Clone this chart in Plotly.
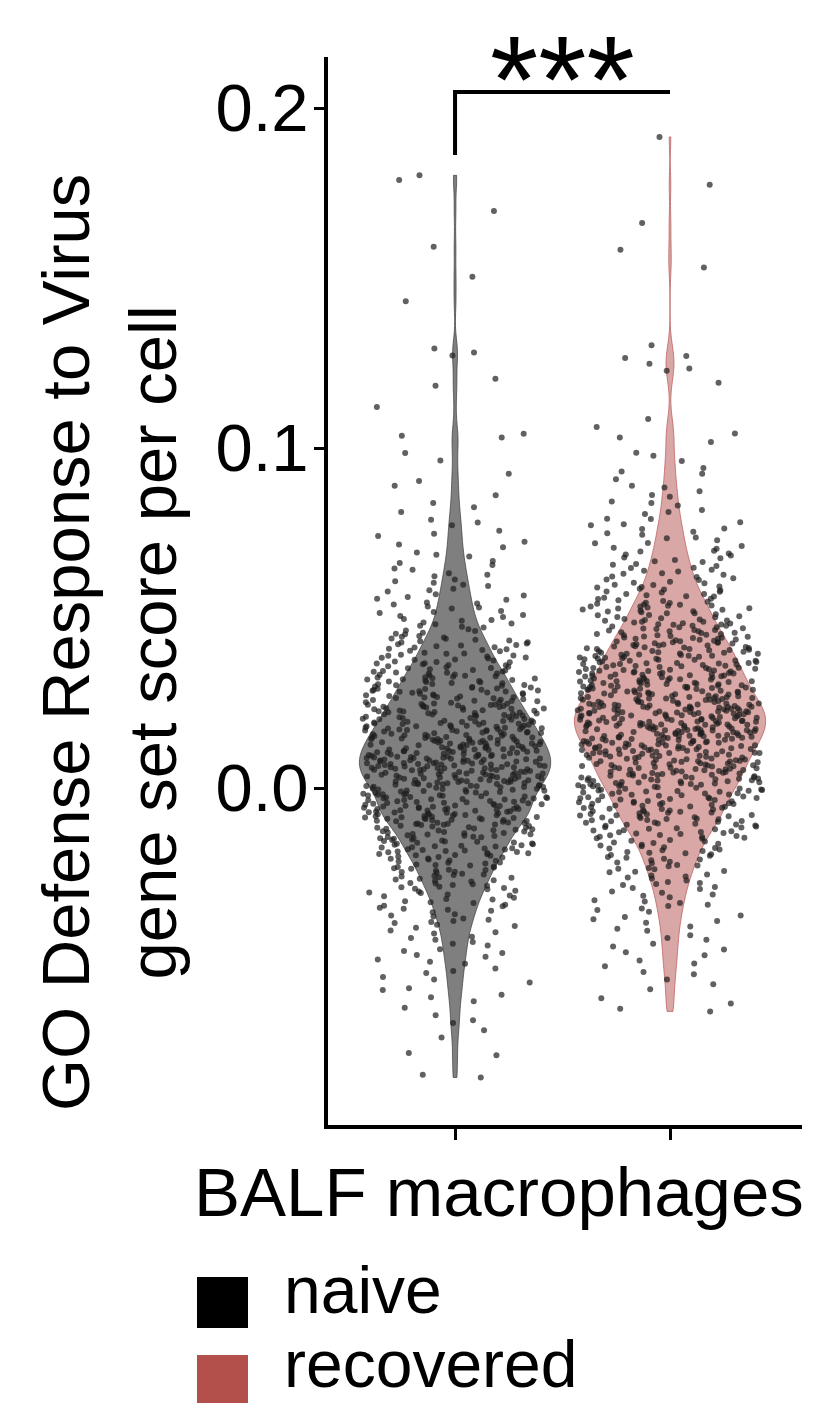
import plotly.graph_objects as go

# ---------------- data (gene set score per cell) ----------------
categories = ["naive", "recovered"]
positions = [0, 1]
y_tick_values = [0.0, 0.1, 0.2]
y_tick_labels = ["0.0", "0.1", "0.2"]
x_title = "BALF macrophages"
y_title = "GO Defense Response to Virus<br>gene set score per cell"
significance = "***"

naive_scores = [
    -0.0851, -0.0843, -0.0786, -0.0779, -0.0734, -0.0712, -0.0691, -0.0668,
    -0.0646, -0.0627, -0.0608, -0.0594, -0.0572, -0.0556,
    -0.0544, -0.0531, -0.0517, -0.0504, -0.0496, -0.0485, -0.0474, -0.0463, -0.0453,
    -0.0446, -0.0437, -0.0428, -0.0419, -0.0411, -0.0402,
    -0.0397, -0.0391, -0.0384, -0.0378, -0.0371, -0.0365, -0.0358, -0.0352,
    -0.0348, -0.0343, -0.0338, -0.0333, -0.0328, -0.0323, -0.0318, -0.0313, -0.0307, -0.0302,
    -0.0298, -0.0294, -0.0290, -0.0287, -0.0283, -0.0279, -0.0275, -0.0271, -0.0267, -0.0264, -0.0260, -0.0256, -0.0252,
    -0.0249, -0.0246, -0.0243, -0.0240, -0.0237, -0.0234, -0.0231, -0.0228, -0.0225, -0.0222, -0.0219, -0.0216,
    -0.0213, -0.0210, -0.0207, -0.0204, -0.0201,
    -0.0199, -0.0197, -0.0194, -0.0192, -0.0189, -0.0187, -0.0184, -0.0182, -0.0180, -0.0177, -0.0175, -0.0172,
    -0.0170, -0.0168, -0.0165, -0.0163, -0.0160, -0.0158, -0.0156, -0.0153, -0.0151,
    -0.0149, -0.0147, -0.0145, -0.0143, -0.0141, -0.0139, -0.0137, -0.0135, -0.0133, -0.0131, -0.0129, -0.0127,
    -0.0125, -0.0123, -0.0121, -0.0119, -0.0117, -0.0115, -0.0113, -0.0111, -0.0109, -0.0107, -0.0105, -0.0103, -0.0101,
    -0.0099, -0.0098, -0.0096, -0.0094, -0.0093, -0.0091, -0.0089, -0.0088, -0.0086, -0.0084, -0.0083, -0.0081,
    -0.0079, -0.0078, -0.0076, -0.0074, -0.0072, -0.0071, -0.0069, -0.0067, -0.0066, -0.0064, -0.0062, -0.0061,
    -0.0059, -0.0057, -0.0056, -0.0054, -0.0052,
    -0.0049, -0.0048, -0.0046, -0.0045, -0.0043, -0.0042, -0.0040, -0.0039, -0.0037, -0.0036, -0.0035, -0.0033,
    -0.0032, -0.0030, -0.0029, -0.0027, -0.0026, -0.0024, -0.0023, -0.0022, -0.0020, -0.0019, -0.0017, -0.0016,
    -0.0014, -0.0013, -0.0011, -0.0010, -0.0009, -0.0007, -0.0006, -0.0004, -0.0003, -0.0001,
    0.0001, 0.0002, 0.0003, 0.0005, 0.0006, 0.0007, 0.0009, 0.0010, 0.0011, 0.0013, 0.0014, 0.0015, 0.0017,
    0.0018, 0.0019, 0.0021, 0.0022, 0.0023, 0.0025, 0.0026, 0.0027, 0.0029, 0.0030, 0.0031, 0.0033, 0.0034,
    0.0035, 0.0037, 0.0038, 0.0039, 0.0041, 0.0042, 0.0043, 0.0045, 0.0046, 0.0047, 0.0048, 0.0049,
    0.0050, 0.0051, 0.0053, 0.0054, 0.0055, 0.0056, 0.0058, 0.0059, 0.0060, 0.0061, 0.0062, 0.0064, 0.0065,
    0.0066, 0.0067, 0.0069, 0.0070, 0.0071, 0.0072, 0.0073, 0.0075, 0.0076, 0.0077, 0.0078, 0.0080, 0.0081,
    0.0082, 0.0083, 0.0084, 0.0086, 0.0087, 0.0088, 0.0089, 0.0091, 0.0092, 0.0093, 0.0094, 0.0095, 0.0097, 0.0098, 0.0099,
    0.0100, 0.0102, 0.0103, 0.0104, 0.0105, 0.0107, 0.0108, 0.0109, 0.0110, 0.0112, 0.0113, 0.0114, 0.0116,
    0.0117, 0.0118, 0.0120, 0.0121, 0.0122, 0.0124, 0.0125, 0.0126, 0.0128, 0.0129, 0.0130, 0.0132, 0.0133,
    0.0134, 0.0136, 0.0137, 0.0138, 0.0140, 0.0141, 0.0142, 0.0144, 0.0145, 0.0146, 0.0148, 0.0149,
    0.0150, 0.0152, 0.0153, 0.0155, 0.0156, 0.0158, 0.0159, 0.0161, 0.0162, 0.0164, 0.0165, 0.0167, 0.0168,
    0.0170, 0.0171, 0.0173, 0.0174, 0.0176, 0.0177, 0.0179, 0.0180, 0.0182, 0.0183, 0.0185, 0.0186, 0.0188,
    0.0189, 0.0191, 0.0192, 0.0194, 0.0195, 0.0197, 0.0198, 0.0199,
    0.0201, 0.0203, 0.0204, 0.0206, 0.0208, 0.0210, 0.0211, 0.0213, 0.0215, 0.0216, 0.0218, 0.0220, 0.0222,
    0.0223, 0.0225, 0.0227, 0.0228, 0.0230, 0.0232, 0.0234, 0.0235, 0.0237, 0.0239, 0.0240, 0.0242, 0.0244,
    0.0246, 0.0247, 0.0249,
    0.0251, 0.0253, 0.0255, 0.0257, 0.0259, 0.0261, 0.0263, 0.0265, 0.0267, 0.0269, 0.0271, 0.0273, 0.0275,
    0.0277, 0.0279, 0.0281, 0.0283, 0.0285, 0.0287, 0.0289, 0.0291, 0.0293, 0.0295, 0.0297, 0.0299,
    0.0301, 0.0303, 0.0306, 0.0308, 0.0311, 0.0313, 0.0315, 0.0318, 0.0320, 0.0323, 0.0325, 0.0327, 0.0330,
    0.0332, 0.0334, 0.0337, 0.0339, 0.0342, 0.0344, 0.0346, 0.0349,
    0.0352, 0.0355, 0.0358, 0.0361, 0.0364, 0.0367, 0.0370, 0.0372, 0.0375, 0.0378, 0.0381, 0.0384, 0.0387,
    0.0390, 0.0392, 0.0395, 0.0398,
    0.0402, 0.0406, 0.0410, 0.0413, 0.0417, 0.0421, 0.0425, 0.0428, 0.0432, 0.0436, 0.0440, 0.0443, 0.0447,
    0.0452, 0.0457, 0.0462, 0.0467, 0.0472, 0.0477, 0.0482, 0.0487, 0.0492, 0.0497,
    0.0503, 0.0509, 0.0515, 0.0521, 0.0528, 0.0534, 0.0540, 0.0546,
    0.0554, 0.0562, 0.0570, 0.0578, 0.0586, 0.0594,
    0.0604, 0.0613, 0.0623, 0.0632, 0.0642,
    0.0656, 0.0668, 0.0681, 0.0693, 0.0708, 0.0724, 0.0741, 0.0757, 0.0773, 0.0789,
    0.0812, 0.0838, 0.0861, 0.0889, 0.0924,
    0.0963, 0.0985, 0.1031, 0.1036, 0.1042, 0.1121, 0.1183, 0.1204, 0.1272, 0.1281, 0.1293,
    0.1432, 0.1504, 0.1592, 0.1697, 0.1788, 0.1802,
    # further cells
    -0.0683, -0.0615, -0.0589, -0.0563, -0.0538, -0.0511,
    -0.0491, -0.0479, -0.0458, -0.0441, -0.0424, -0.0406,
    -0.0394, -0.0387, -0.0375, -0.0361, -0.0355, -0.0346, -0.0336, -0.0326, -0.0316, -0.0309, -0.0304,
    -0.0296, -0.0292, -0.0285, -0.0281, -0.0273, -0.0269, -0.0262, -0.0258, -0.0254, -0.0247, -0.0241, -0.0236,
    -0.0232, -0.0226, -0.0220, -0.0214, -0.0208, -0.0203,
    -0.0198, -0.0195, -0.0191, -0.0188, -0.0185, -0.0181, -0.0178, -0.0174, -0.0171, -0.0167, -0.0164, -0.0161,
    -0.0157, -0.0154, -0.0148, -0.0144, -0.0140, -0.0136, -0.0132, -0.0128, -0.0124, -0.0120, -0.0116, -0.0112,
    -0.0108, -0.0106, -0.0104, -0.0102,
    -0.0097, -0.0095, -0.0092, -0.0090, -0.0087, -0.0085, -0.0082, -0.0080, -0.0077, -0.0075, -0.0073, -0.0070,
    -0.0068, -0.0065, -0.0063, -0.0060, -0.0058, -0.0055, -0.0053, -0.0051, -0.0047, -0.0044, -0.0041, -0.0038,
    -0.0034, -0.0031, -0.0028, -0.0025, -0.0021, -0.0018, -0.0015, -0.0012, -0.0008, -0.0005, -0.0002, -0.0050,
    -0.0062, -0.0089,
    0.0004, 0.0008, 0.0012, 0.0016, 0.0020, 0.0024, 0.0028, 0.0032, 0.0036, 0.0040, 0.0044, 0.0052, 0.0057,
    0.0063, 0.0068, 0.0074, 0.0079, 0.0085, 0.0090, 0.0096, 0.0003, 0.0007, 0.0011, 0.0015, 0.0019, 0.0023,
    0.0027, 0.0031, 0.0035, 0.0039, 0.0043, 0.0047, 0.0053, 0.0055, 0.0061, 0.0065, 0.0069, 0.0073, 0.0077,
    0.0081, 0.0084, 0.0088, 0.0093, 0.0097, 0.0058, 0.0071, 0.0087, 0.0092,
    0.0101, 0.0106, 0.0111, 0.0115, 0.0119, 0.0123, 0.0127, 0.0131, 0.0135, 0.0139, 0.0143, 0.0147, 0.0151,
    0.0154, 0.0157, 0.0160, 0.0163, 0.0166, 0.0169, 0.0172, 0.0175, 0.0178, 0.0181, 0.0184, 0.0187, 0.0190,
    0.0193, 0.0196, 0.0104, 0.0109, 0.0113, 0.0117, 0.0121, 0.0126, 0.0131, 0.0135, 0.0139, 0.0144, 0.0148,
    0.0163, 0.0171, 0.0182, 0.0194,
    0.0202, 0.0205, 0.0209, 0.0212, 0.0214, 0.0217, 0.0221, 0.0224, 0.0226, 0.0229, 0.0233, 0.0236, 0.0238,
    0.0241, 0.0245, 0.0248, 0.0252, 0.0256, 0.0260, 0.0264, 0.0268, 0.0272, 0.0276, 0.0280, 0.0284, 0.0288,
    0.0292, 0.0296, 0.0219, 0.0243, 0.0266, 0.0286,
    0.0302, 0.0305, 0.0309, 0.0312, 0.0316, 0.0319, 0.0322, 0.0326, 0.0329, 0.0333, 0.0336, 0.0340, 0.0343,
    0.0347, 0.0353, 0.0357, 0.0362, 0.0366, 0.0371, 0.0377, 0.0383, 0.0389, 0.0396,
    0.0404, 0.0408, 0.0414, 0.0419, 0.0423, 0.0429, 0.0434, 0.0439, 0.0445, 0.0454, 0.0463, 0.0474, 0.0484, 0.0494,
    0.0506, 0.0518, 0.0531, 0.0543, 0.0557, 0.0566, 0.0582, 0.0598,
    0.0608, 0.0627, 0.0646, 0.0662, 0.0686, 0.0716, 0.0748, 0.0781, 0.0826, 0.0903,
]

recovered_scores = [
    -0.0657, -0.0649, -0.0618, -0.0592, -0.0563,
    -0.0541, -0.0524, -0.0507, -0.0492, -0.0475, -0.0458,
    -0.0446, -0.0433, -0.0420, -0.0407, -0.0396, -0.0386, -0.0375, -0.0364, -0.0354,
    -0.0347, -0.0338, -0.0330, -0.0321, -0.0313, -0.0304,
    -0.0297, -0.0291, -0.0285, -0.0279, -0.0272, -0.0266, -0.0260, -0.0254,
    -0.0248, -0.0244, -0.0239, -0.0235, -0.0230, -0.0226, -0.0221, -0.0217, -0.0212, -0.0208, -0.0203,
    -0.0199, -0.0195, -0.0192, -0.0188, -0.0185, -0.0181, -0.0178, -0.0174, -0.0171, -0.0167, -0.0164,
    -0.0160, -0.0157, -0.0153,
    -0.0149, -0.0146, -0.0143, -0.0141, -0.0138, -0.0135, -0.0132, -0.0129, -0.0127, -0.0124, -0.0121,
    -0.0118, -0.0115, -0.0113, -0.0110, -0.0107, -0.0104, -0.0102,
    -0.0099, -0.0097, -0.0095, -0.0092, -0.0090, -0.0088, -0.0086, -0.0083, -0.0081, -0.0079, -0.0077,
    -0.0074, -0.0072, -0.0070, -0.0068, -0.0065, -0.0063, -0.0061, -0.0059, -0.0056, -0.0054, -0.0052,
    -0.0049, -0.0047, -0.0046, -0.0044, -0.0042, -0.0040, -0.0038, -0.0036, -0.0034, -0.0032, -0.0030,
    -0.0028, -0.0027, -0.0025, -0.0023, -0.0021, -0.0019, -0.0017, -0.0015, -0.0013, -0.0011, -0.0009,
    -0.0008, -0.0006, -0.0004, -0.0002,
    0.0001, 0.0003, 0.0004, 0.0006, 0.0008, 0.0009, 0.0011, 0.0013, 0.0014, 0.0016, 0.0018, 0.0019, 0.0021,
    0.0023, 0.0024, 0.0026, 0.0028, 0.0029, 0.0031, 0.0033, 0.0034, 0.0036, 0.0038, 0.0039, 0.0041, 0.0043,
    0.0044, 0.0046, 0.0047, 0.0049,
    0.0050, 0.0052, 0.0053, 0.0055, 0.0056, 0.0058, 0.0059, 0.0061, 0.0062, 0.0064, 0.0065, 0.0067, 0.0068,
    0.0070, 0.0071, 0.0073, 0.0074, 0.0076, 0.0077, 0.0079, 0.0080, 0.0082, 0.0083, 0.0085, 0.0086, 0.0088,
    0.0089, 0.0091, 0.0092, 0.0094, 0.0095, 0.0097, 0.0098, 0.0099,
    0.0100, 0.0102, 0.0103, 0.0104, 0.0105, 0.0107, 0.0108, 0.0109, 0.0110, 0.0112, 0.0113, 0.0114, 0.0116,
    0.0117, 0.0118, 0.0120, 0.0121, 0.0122, 0.0124, 0.0125, 0.0126, 0.0128, 0.0129, 0.0130, 0.0132, 0.0133,
    0.0134, 0.0136, 0.0137, 0.0138, 0.0140, 0.0141, 0.0142, 0.0144, 0.0145, 0.0146, 0.0148, 0.0149,
    0.0150, 0.0151, 0.0152, 0.0154, 0.0155, 0.0156, 0.0157, 0.0158, 0.0160, 0.0161, 0.0162, 0.0163, 0.0164,
    0.0165, 0.0167, 0.0168, 0.0169, 0.0170, 0.0171, 0.0173, 0.0174, 0.0175, 0.0176, 0.0177, 0.0178, 0.0180,
    0.0181, 0.0182, 0.0183, 0.0184, 0.0186, 0.0187, 0.0188, 0.0189, 0.0190, 0.0191, 0.0193, 0.0194, 0.0195,
    0.0196, 0.0197, 0.0199,
    0.0200, 0.0201, 0.0203, 0.0204, 0.0205, 0.0206, 0.0207, 0.0210, 0.0211, 0.0212, 0.0213, 0.0214, 0.0216,
    0.0217, 0.0218, 0.0219, 0.0220, 0.0221, 0.0223, 0.0224, 0.0225, 0.0226, 0.0227, 0.0229, 0.0230, 0.0231,
    0.0232, 0.0233, 0.0234, 0.0236, 0.0237, 0.0238, 0.0239, 0.0240, 0.0242, 0.0243, 0.0244, 0.0245, 0.0246,
    0.0248, 0.0249,
    0.0250, 0.0252, 0.0253, 0.0254, 0.0256, 0.0257, 0.0259, 0.0260, 0.0261, 0.0263, 0.0264, 0.0265, 0.0267,
    0.0268, 0.0270, 0.0271, 0.0272, 0.0274, 0.0275, 0.0276, 0.0278, 0.0279, 0.0281, 0.0282, 0.0283, 0.0285,
    0.0286, 0.0287, 0.0289, 0.0290, 0.0292, 0.0293, 0.0294, 0.0296, 0.0297, 0.0298, 0.0299,
    0.0301, 0.0302, 0.0304, 0.0305, 0.0307, 0.0308, 0.0310, 0.0311, 0.0313, 0.0314, 0.0316, 0.0317, 0.0319,
    0.0320, 0.0322, 0.0323, 0.0325, 0.0326, 0.0328, 0.0329, 0.0331, 0.0332, 0.0334, 0.0335, 0.0337, 0.0338,
    0.0340, 0.0341, 0.0343, 0.0344, 0.0346, 0.0347, 0.0349,
    0.0351, 0.0353, 0.0354, 0.0356, 0.0358, 0.0360, 0.0361, 0.0363, 0.0365, 0.0367, 0.0368, 0.0370, 0.0372,
    0.0374, 0.0375, 0.0377, 0.0379, 0.0381, 0.0382, 0.0384, 0.0386, 0.0388, 0.0389, 0.0391, 0.0393, 0.0395,
    0.0396, 0.0398, 0.0399,
    0.0401, 0.0403, 0.0405, 0.0407, 0.0409, 0.0411, 0.0413, 0.0415, 0.0417, 0.0419, 0.0421, 0.0423, 0.0425,
    0.0427, 0.0429, 0.0431, 0.0433, 0.0435, 0.0437, 0.0439, 0.0441, 0.0443, 0.0445, 0.0447, 0.0449,
    0.0451, 0.0453, 0.0456, 0.0458, 0.0461, 0.0463, 0.0465, 0.0468, 0.0470, 0.0473, 0.0475, 0.0477, 0.0480,
    0.0482, 0.0484, 0.0487, 0.0489, 0.0492, 0.0494, 0.0496, 0.0499,
    0.0502, 0.0505, 0.0508, 0.0511, 0.0514, 0.0517, 0.0520, 0.0522, 0.0525, 0.0528, 0.0531, 0.0534, 0.0537,
    0.0540, 0.0542, 0.0545, 0.0548,
    0.0552, 0.0556, 0.0560, 0.0563, 0.0567, 0.0571, 0.0575, 0.0578, 0.0582, 0.0586, 0.0590, 0.0593, 0.0597,
    0.0602, 0.0607, 0.0612, 0.0617, 0.0622, 0.0627, 0.0632, 0.0637, 0.0642, 0.0647,
    0.0653, 0.0659, 0.0665, 0.0671, 0.0678, 0.0684, 0.0690, 0.0696,
    0.0704, 0.0712, 0.0720, 0.0729, 0.0737, 0.0745,
    0.0754, 0.0763, 0.0773, 0.0782, 0.0792,
    0.0806, 0.0818, 0.0831, 0.0843, 0.0857, 0.0873, 0.0889, 0.0908, 0.0924, 0.0941,
    0.0962, 0.0986, 0.1018, 0.1043, 0.1062, 0.1085,
    0.1192, 0.1227, 0.1234, 0.1248, 0.1265, 0.1271, 0.1302, 0.1531, 0.1583, 0.1662, 0.1774, 0.1915,
    # further cells
    -0.0634, -0.0577, -0.0548, -0.0516, -0.0483, -0.0466, -0.0441, -0.0414,
    -0.0391, -0.0379, -0.0359, -0.0343, -0.0334, -0.0317, -0.0308,
    -0.0294, -0.0282, -0.0276, -0.0263, -0.0257, -0.0246, -0.0237, -0.0228, -0.0219, -0.0210, -0.0205,
    -0.0197, -0.0190, -0.0183, -0.0176, -0.0169, -0.0162, -0.0155, -0.0148, -0.0144, -0.0139, -0.0134,
    -0.0130, -0.0125, -0.0120, -0.0116, -0.0111, -0.0108, -0.0105, -0.0101,
    -0.0098, -0.0094, -0.0091, -0.0087, -0.0084, -0.0080, -0.0076, -0.0073, -0.0069, -0.0066, -0.0062,
    -0.0058, -0.0055, -0.0051, -0.0048, -0.0045, -0.0043, -0.0039, -0.0035, -0.0031, -0.0029, -0.0024,
    -0.0020, -0.0016, -0.0012, -0.0010, -0.0007, -0.0005, -0.0001,
    0.0002, 0.0005, 0.0007, 0.0010, 0.0012, 0.0015, 0.0017, 0.0020, 0.0022, 0.0025, 0.0027, 0.0030, 0.0032,
    0.0035, 0.0037, 0.0040, 0.0042, 0.0045, 0.0048, 0.0051, 0.0054, 0.0057, 0.0060, 0.0063, 0.0066, 0.0069,
    0.0072, 0.0075, 0.0078, 0.0081, 0.0084, 0.0087, 0.0090, 0.0093, 0.0096, 0.0099, 0.0058, 0.0079,
    0.0101, 0.0103, 0.0106, 0.0108, 0.0111, 0.0113, 0.0115, 0.0117, 0.0119, 0.0121, 0.0123, 0.0126, 0.0128,
    0.0131, 0.0133, 0.0135, 0.0137, 0.0139, 0.0142, 0.0144, 0.0147, 0.0149, 0.0152, 0.0154, 0.0156, 0.0159,
    0.0161, 0.0163, 0.0165, 0.0168, 0.0170, 0.0172, 0.0174, 0.0176, 0.0179, 0.0181, 0.0183, 0.0185, 0.0187,
    0.0189, 0.0191, 0.0193, 0.0195, 0.0197, 0.0198, 0.0153, 0.0171, 0.0186,
    0.0201, 0.0203, 0.0205, 0.0207, 0.0209, 0.0211, 0.0213, 0.0215, 0.0217, 0.0219, 0.0221, 0.0223, 0.0225,
    0.0227, 0.0229, 0.0231, 0.0233, 0.0235, 0.0237, 0.0239, 0.0241, 0.0243, 0.0245, 0.0247, 0.0249, 0.0251,
    0.0254, 0.0257, 0.0260, 0.0262, 0.0265, 0.0268, 0.0270, 0.0273, 0.0276, 0.0278, 0.0281, 0.0284, 0.0286,
    0.0289, 0.0291, 0.0294, 0.0297, 0.0299, 0.0222, 0.0238, 0.0263,
    0.0301, 0.0303, 0.0306, 0.0309, 0.0312, 0.0315, 0.0318, 0.0321, 0.0324, 0.0327, 0.0330, 0.0333, 0.0336,
    0.0339, 0.0342, 0.0345, 0.0348, 0.0350, 0.0353, 0.0356, 0.0359, 0.0362, 0.0365, 0.0368, 0.0371, 0.0374,
    0.0377, 0.0380, 0.0383, 0.0386, 0.0389, 0.0392, 0.0395, 0.0398, 0.0314, 0.0337, 0.0366,
    0.0402, 0.0406, 0.0409, 0.0412, 0.0416, 0.0419, 0.0422, 0.0426, 0.0429, 0.0432, 0.0436, 0.0439, 0.0442,
    0.0446, 0.0449, 0.0453, 0.0457, 0.0461, 0.0465, 0.0469, 0.0473, 0.0477, 0.0481, 0.0485, 0.0489, 0.0493,
    0.0497, 0.0414,
    0.0503, 0.0509, 0.0514, 0.0519, 0.0524, 0.0529, 0.0534, 0.0539, 0.0544, 0.0550, 0.0557, 0.0564, 0.0571,
    0.0577, 0.0584, 0.0591, 0.0598, 0.0536,
    0.0604, 0.0613, 0.0621, 0.0630, 0.0639, 0.0648, 0.0657, 0.0667, 0.0676, 0.0687, 0.0698,
    0.0707, 0.0721, 0.0735, 0.0749, 0.0762, 0.0776, 0.0791, 0.0812, 0.0838, 0.0862, 0.0884,
    0.0931, 0.0977, 0.1031,
]

group_scores = [naive_scores, recovered_scores]

# ---------------- style ----------------
FONT = "Liberation Sans, Arial, Helvetica, sans-serif"
legend_colors = ["#000000", "#B4504B"]
violin_fills = ["rgba(0,0,0,0.5)", "rgba(180,80,75,0.5)"]
violin_lines = ["rgba(60,60,60,0.7)", "rgba(190,100,100,0.8)"]
point_color = "rgba(30,30,30,0.7)"
# value bands used only to spread the jittered cells evenly across the full jitter width
jitter_bands = [-1.0, -0.05, -0.03, -0.01, 0.03, 0.05, 0.07, 0.1, 1.0]

# page is offset by the 8px default body margin
OFF = 8
W, H = 800, 1395
ML, MR, MT, MB = 320, 6, 49, 278
PW, PH = W - ML - MR, H - MT - MB


def px_x(p):
    return (p - OFF - ML) / PW


def px_y(p):
    return (H - MB - (p - OFF)) / PH


fig = go.Figure()

# jittered cells (drawn first, below the violins)
for name, pos, vals in zip(categories, positions, group_scores):
    for lo, hi in zip(jitter_bands[:-1], jitter_bands[1:]):
        band = [v for v in vals if lo <= v < hi]
        if not band:
            continue
        fig.add_trace(go.Box(
            y=band, x0=pos, name=name, boxpoints="all", jitter=1, pointpos=0,
            marker=dict(size=6, color=point_color, line=dict(width=0)),
            fillcolor="rgba(0,0,0,0)", line=dict(width=0, color="rgba(0,0,0,0)"),
            whiskerwidth=0, width=0.86, showlegend=False, hoverinfo="y",
        ))

# translucent violins on top
for name, pos, vals, fc, lc in zip(categories, positions, group_scores, violin_fills, violin_lines):
    fig.add_trace(go.Violin(
        y=vals, x0=pos, name=name, points=False,
        fillcolor=fc, line=dict(width=1, color=lc),
        width=0.89, spanmode="hard", bandwidth=0.0038,
        box_visible=False, meanline_visible=False, showlegend=False, hoverinfo="skip",
    ))

# significance bracket
BRACKET_TOP = 0.2047
BRACKET_TIP = 0.1862
fig.add_shape(type="path",
              path=f"M {positions[0]},{BRACKET_TIP} L {positions[0]},{BRACKET_TOP} L {positions[1]},{BRACKET_TOP}",
              xref="x", yref="y", line=dict(color="black", width=4))

annotations = [
    dict(text=significance, x=(positions[0] + positions[1]) / 2, xref="x", y=px_y(80), yref="paper",
         xanchor="center", yanchor="middle", showarrow=False, font=dict(size=124, color="black", family=FONT)),
    dict(text=y_title, x=px_x(109), y=px_y(643), xref="paper", yref="paper", textangle=-90,
         xanchor="center", yanchor="middle", showarrow=False, font=dict(size=67, color="black", family=FONT)),
    dict(text=x_title, x=px_x(499), y=px_y(1192), xref="paper", yref="paper",
         xanchor="center", yanchor="middle", showarrow=False, font=dict(size=69, color="black", family=FONT)),
]

# legend (drawn manually with large keys)
legend_rows = [(1277, 1328, 1290), (1355, 1405, 1364)]
for name, col, (t, b, c) in zip(categories, legend_colors, legend_rows):
    fig.add_shape(type="rect", xref="paper", yref="paper", x0=px_x(197), x1=px_x(248),
                  y0=px_y(b), y1=px_y(t), fillcolor=col, line=dict(width=0))
    annotations.append(dict(text=name, x=px_x(282), y=px_y(c), xref="paper", yref="paper",
                            xanchor="left", yanchor="middle", showarrow=False,
                            font=dict(size=66, color="black", family=FONT)))

fig.update_layout(
    width=W, height=H,
    margin=dict(l=ML, r=MR, t=MT, b=MB, pad=0),
    paper_bgcolor="white", plot_bgcolor="white",
    violinmode="overlay", boxmode="overlay",
    showlegend=False,
    font=dict(family=FONT, color="black"),
    annotations=annotations,
    xaxis=dict(type="linear", range=[-0.591, 1.614], tickvals=positions, ticktext=["", ""],
               showgrid=False, zeroline=False, showline=True, linewidth=4, linecolor="black",
               ticks="outside", ticklen=11, tickwidth=3, tickcolor="black"),
    yaxis=dict(range=[-0.0991, 0.215], tickvals=y_tick_values, ticktext=y_tick_labels,
               showgrid=False, zeroline=False, showline=True, linewidth=4, linecolor="black",
               ticks="outside", ticklen=10, tickwidth=3, tickcolor="black",
               tickfont=dict(size=67, family=FONT, color="black"), ticklabelstandoff=-8),
)

fig.write_html("out.html")
